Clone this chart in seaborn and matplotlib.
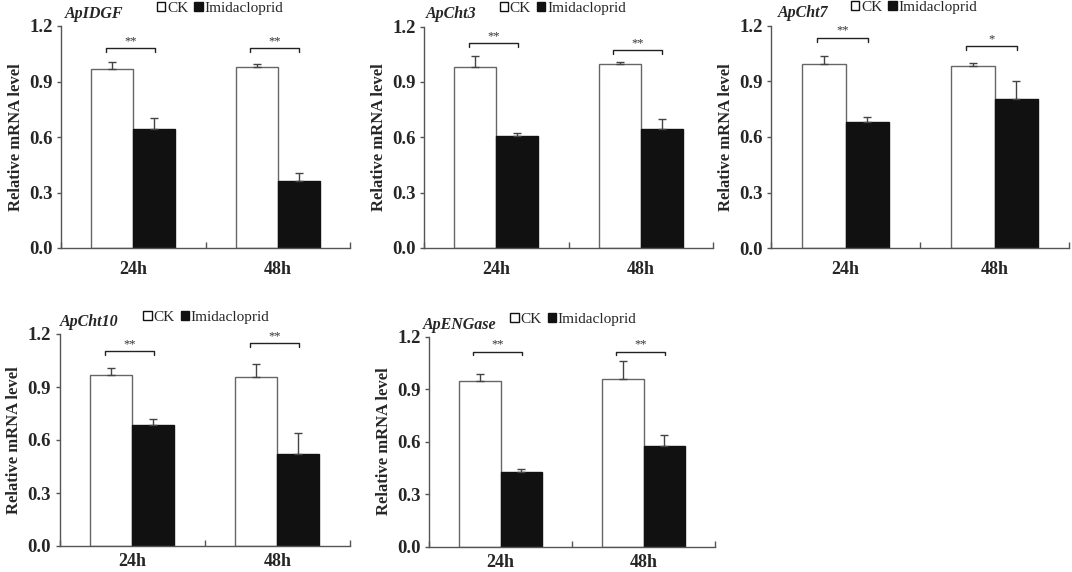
import matplotlib
matplotlib.use("Agg")
import matplotlib.pyplot as plt
import seaborn as sns
import pandas as pd
import numpy as np

# ---------------- data ----------------
times = ["24h", "48h"]
groups = ["CK", "Imidacloprid"]
genes = ["ApIDGF", "ApCht3", "ApCht7", "ApCht10", "ApENGase"]

ck_IDGF = [0.965, 0.978]
ck_IDGF_err = [0.040, 0.015]
imi_IDGF = [0.643, 0.362]
imi_IDGF_err = [0.058, 0.042]
stars_IDGF = ["**", "**"]
bracket_IDGF = [1.08, 1.08]

ck_Cht3 = [0.978, 0.998]
ck_Cht3_err = [0.063, 0.009]
imi_Cht3 = [0.607, 0.644]
imi_Cht3_err = [0.015, 0.054]
stars_Cht3 = ["**", "**"]
bracket_Cht3 = [1.11, 1.074]

ck_Cht7 = [0.995, 0.983]
ck_Cht7_err = [0.043, 0.016]
imi_Cht7 = [0.680, 0.803]
imi_Cht7_err = [0.028, 0.097]
stars_Cht7 = ["**", "*"]
bracket_Cht7 = [1.135, 1.09]

ck_Cht10 = [0.966, 0.958]
ck_Cht10_err = [0.040, 0.070]
imi_Cht10 = [0.687, 0.521]
imi_Cht10_err = [0.030, 0.117]
stars_Cht10 = ["**", "**"]
bracket_Cht10 = [1.104, 1.147]

ck_ENG = [0.948, 0.958]
ck_ENG_err = [0.040, 0.100]
imi_ENG = [0.425, 0.577]
imi_ENG_err = [0.017, 0.060]
stars_ENG = ["**", "**"]
bracket_ENG = [1.114, 1.114]

yticks = [0.0, 0.3, 0.6, 0.9, 1.2]
ylabel = "Relative mRNA level"

panels = [
    (genes[0], ck_IDGF, ck_IDGF_err, imi_IDGF, imi_IDGF_err, stars_IDGF, bracket_IDGF),
    (genes[1], ck_Cht3, ck_Cht3_err, imi_Cht3, imi_Cht3_err, stars_Cht3, bracket_Cht3),
    (genes[2], ck_Cht7, ck_Cht7_err, imi_Cht7, imi_Cht7_err, stars_Cht7, bracket_Cht7),
    (genes[3], ck_Cht10, ck_Cht10_err, imi_Cht10, imi_Cht10_err, stars_Cht10, bracket_Cht10),
    (genes[4], ck_ENG, ck_ENG_err, imi_ENG, imi_ENG_err, stars_ENG, bracket_ENG),
]

# ---------------- style ----------------
sns.set_style("ticks")
plt.rcParams["font.family"] = ["Liberation Serif", "DejaVu Serif"]

W, H = 1072, 572
fig = plt.figure(figsize=(W / 100, H / 100), dpi=100)

# layout per panel: left, right, top, bottom (px), xtick pad, title x, legend x
layout = [
    (61, 350, 26, 248, 9, 0.014, 0.55),
    (424, 713, 26.5, 248, 9, 0.006, 0.48),
    (771, 1069, 25.5, 248.3, 9, 0.023, 0.48),
    (59.5, 350, 334, 546, 5, 0.0, 0.505),
    (429, 715, 336.5, 546.7, 5, -0.02, 0.505),
]

axis_col = "#555555"
ck_edge = "#666666"

for (gene, ck, cke, imi, imie, stars, bry), (l, r, t, b, xpad, tx, lx) in zip(panels, layout):
    ax = fig.add_axes([l / W, 1 - b / H, (r - l) / W, (b - t) / H])
    df = pd.DataFrame({
        "time": times * 2,
        "group": [groups[0]] * 2 + [groups[1]] * 2,
        "value": ck + imi,
    })
    sns.barplot(data=df, x="time", y="value", hue="group", order=times,
                hue_order=groups, palette={groups[0]: "white", groups[1]: "#111111"},
                width=0.58, errorbar=None, ax=ax, linewidth=1.0,
                edgecolor="#111111", saturation=1)
    bars = ax.patches[:4]
    for p in ax.patches[:2]:
        p.set_edgecolor(ck_edge)
    errs = cke + imie
    vals = ck + imi
    for p, v, e in zip(bars, vals, errs):
        xc = p.get_x() + p.get_width() / 2
        ax.errorbar([xc], [v], yerr=[[0], [e]], fmt="none", ecolor="#444444",
                    elinewidth=1.0, capsize=3, capthick=1.0, zorder=3)
    # significance brackets
    for i, (s, yb) in enumerate(zip(stars, bry)):
        x0, x1 = i - 0.19, i + 0.15
        ax.plot([x0, x0, x1, x1], [yb - 0.022, yb, yb, yb - 0.022],
                color="#222222", lw=1.0, clip_on=False)
        ax.text((x0 + x1) / 2, yb + 0.005, s, ha="center", va="bottom",
                fontsize=9, color="#333333")

    ax.set_xlim(-0.5, 1.5)
    ax.set_ylim(0, 1.2)
    ax.set_yticks(yticks)
    ax.set_yticklabels([f"{v:.1f}" for v in yticks], fontsize=13.5, fontweight="bold")
    ax.set_xticks([0, 1])
    ax.set_xticklabels(times, fontsize=13, fontweight="bold")
    ax.set_xticks([-0.5, 0.5, 1.5], minor=True)
    ax.tick_params(axis="x", which="major", length=0, pad=xpad)
    ax.tick_params(axis="x", which="minor", direction="in", length=4,
                   color=axis_col, width=1)
    ax.tick_params(axis="y", which="major", direction="out", length=3,
                   color=axis_col, width=1, pad=3)
    ax.set_xlabel("")
    ax.set_ylabel(ylabel, fontsize=12, fontweight="bold", labelpad=4)
    for sp in ["top", "right"]:
        ax.spines[sp].set_visible(False)
    for sp in ["left", "bottom"]:
        ax.spines[sp].set_color(axis_col)
        ax.spines[sp].set_linewidth(1.0)

    ax.text(tx, 1.055, gene, transform=ax.transAxes, ha="left", va="center",
            fontsize=11.5, fontweight="bold", fontstyle="italic")

    handles, labels = ax.get_legend_handles_labels()
    ax.legend(handles, labels, loc="center", bbox_to_anchor=(lx, 1.08),
              ncol=2, frameon=False, fontsize=11, handlelength=0.55,
              handleheight=0.55, handletextpad=0.1, columnspacing=0.4,
              borderaxespad=0, borderpad=0)

fig.savefig("out.png", dpi=100)
